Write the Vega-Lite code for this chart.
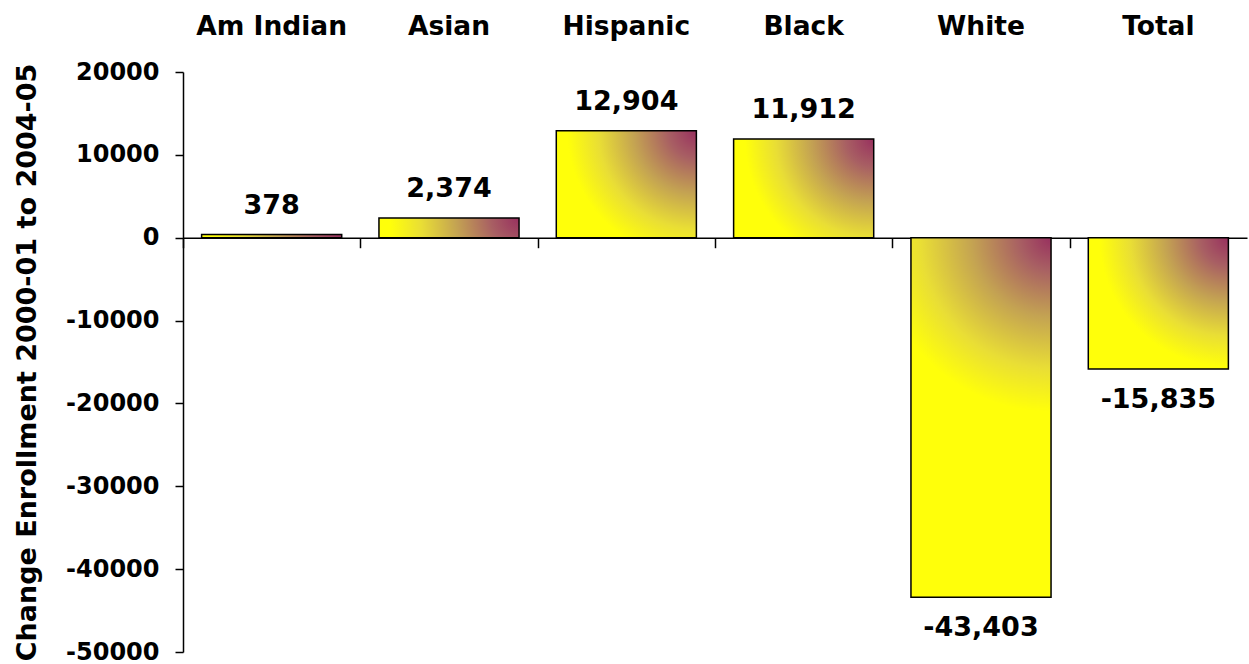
{
  "$schema": "https://vega.github.io/schema/vega-lite/v6.json",
  "description": "Change in enrollment 2000-01 to 2004-05 by group.",
  "width": 1064,
  "height": 580,
  "autosize": {"type": "none"},
  "padding": {"left": 183, "top": 72, "right": 2, "bottom": 12},
  "background": "white",
  "config": {
    "view": {"stroke": null},
    "font": "DejaVu Sans",
    "axis": {
      "labelFont": "DejaVu Sans",
      "labelFontWeight": "bold",
      "labelColor": "black",
      "titleFont": "DejaVu Sans",
      "titleFontWeight": "bold",
      "titleColor": "black",
      "domainColor": "black",
      "tickColor": "black",
      "grid": false
    }
  },
  "data": {
    "values": [
      {"group": "Am Indian", "change": 378},
      {"group": "Asian", "change": 2374},
      {"group": "Hispanic", "change": 12904},
      {"group": "Black", "change": 11912},
      {"group": "White", "change": -43403},
      {"group": "Total", "change": -15835}
    ]
  },
  "encoding": {
    "x": {
      "field": "group",
      "type": "nominal",
      "sort": null,
      "axis": null,
      "scale": {"paddingInner": 0.21, "paddingOuter": 0.105}
    },
    "y": {
      "field": "change",
      "type": "quantitative",
      "scale": {"domain": [-50000, 20000], "nice": false}
    }
  },
  "layer": [
    {
      "mark": {"type": "bar", "stroke": "black", "strokeWidth": 1.5},
      "encoding": {
        "x": {
          "field": "group",
          "type": "nominal",
          "sort": null,
          "title": null,
          "axis": {
            "orient": "top",
            "domain": false,
            "ticks": false,
            "tickSize": 0,
            "labelFontSize": 26.5,
            "labelPadding": 32,
            "labelAngle": 0
          }
        },
        "y": {
          "field": "change",
          "type": "quantitative",
          "title": "Change Enrollment 2000-01 to 2004-05",
          "axis": {
            "values": [20000, 10000, 0, -10000, -20000, -30000, -40000, -50000],
            "format": "d",
            "labelExpr": "replace(datum.label, '\u2212', '-')",
            "labelFontSize": 24,
            "labelPadding": 16,
            "tickSize": 8,
            "tickWidth": 1.5,
            "domainWidth": 1.5,
            "titleFontSize": 27,
            "titlePadding": 24
          }
        },
        "fill": {
          "condition": [
            {
              "test": "datum.group === 'White'",
              "value": {
                "gradient": "radial",
                "x1": 0.695, "y1": 0, "r1": 0,
                "x2": 0.695, "y2": 0, "r2": 0.55,
                "stops": [
                  {"offset": 0, "color": "#98305f"},
                  {"offset": 0.16, "color": "#a85f63"},
                  {"offset": 0.4, "color": "#c4a352"},
                  {"offset": 0.66, "color": "#e9de35"},
                  {"offset": 0.88, "color": "#ffff0a"}
                ]
              }
            },
            {
              "test": "datum.group === 'Total'",
              "value": {
                "gradient": "radial",
                "x1": 1, "y1": 0.032, "r1": 0,
                "x2": 1, "y2": 0.032, "r2": 1,
                "stops": [
                  {"offset": 0, "color": "#98305f"},
                  {"offset": 0.2, "color": "#a85f63"},
                  {"offset": 0.45, "color": "#c4a352"},
                  {"offset": 0.7, "color": "#e9de35"},
                  {"offset": 0.92, "color": "#ffff0a"}
                ]
              }
            },
            {
              "test": "datum.group === 'Hispanic'",
              "value": {
                "gradient": "radial",
                "x1": 1, "y1": 0.118, "r1": 0,
                "x2": 1, "y2": 0.118, "r2": 1,
                "stops": [
                  {"offset": 0, "color": "#98305f"},
                  {"offset": 0.2, "color": "#a85f63"},
                  {"offset": 0.45, "color": "#c4a352"},
                  {"offset": 0.7, "color": "#e9de35"},
                  {"offset": 0.92, "color": "#ffff0a"}
                ]
              }
            },
            {
              "test": "datum.group === 'Black'",
              "value": {
                "gradient": "radial",
                "x1": 1, "y1": 0.148, "r1": 0,
                "x2": 1, "y2": 0.148, "r2": 1,
                "stops": [
                  {"offset": 0, "color": "#98305f"},
                  {"offset": 0.2, "color": "#a85f63"},
                  {"offset": 0.45, "color": "#c4a352"},
                  {"offset": 0.7, "color": "#e9de35"},
                  {"offset": 0.92, "color": "#ffff0a"}
                ]
              }
            },
            {
              "test": "datum.group === 'Asian'",
              "value": {
                "gradient": "radial",
                "x1": 1, "y1": 0.43, "r1": 0,
                "x2": 1, "y2": 0.43, "r2": 1,
                "stops": [
                  {"offset": 0, "color": "#98305f"},
                  {"offset": 0.2, "color": "#a85f63"},
                  {"offset": 0.45, "color": "#c4a352"},
                  {"offset": 0.7, "color": "#e9de35"},
                  {"offset": 0.92, "color": "#ffff0a"}
                ]
              }
            }
          ],
          "value": {
            "gradient": "radial",
            "x1": 1, "y1": 0.49, "r1": 0,
            "x2": 1, "y2": 0.49, "r2": 1,
            "stops": [
              {"offset": 0, "color": "#98305f"},
              {"offset": 0.2, "color": "#a85f63"},
              {"offset": 0.45, "color": "#c4a352"},
              {"offset": 0.7, "color": "#e9de35"},
              {"offset": 0.92, "color": "#ffff0a"}
            ]
          }
        }
      }
    },
    {
      "transform": [{"filter": "datum.change >= 0"}],
      "mark": {
        "type": "text",
        "baseline": "alphabetic",
        "dy": -21,
        "fontSize": 27,
        "fontWeight": "bold",
        "color": "black"
      },
      "encoding": {
        "x": {
          "field": "group",
          "type": "nominal",
          "sort": null,
          "title": null,
          "axis": {
            "orient": "bottom",
            "offset": -414.29,
            "labels": false,
            "bandPosition": 0,
            "tickOffset": -18.6,
            "tickSize": 10,
            "tickWidth": 1.5,
            "domainWidth": 1.5
          }
        },
        "text": {"field": "change", "type": "quantitative", "format": ",d"}
      }
    },
    {
      "transform": [{"filter": "datum.change < 0"}],
      "mark": {
        "type": "text",
        "baseline": "top",
        "dy": 18,
        "fontSize": 27,
        "fontWeight": "bold",
        "color": "black",
        "text": {"expr": "replace(format(datum.change, ',d'), '\u2212', '-')"}
      },
      "encoding": {}
    }
  ],
  "resolve": {"axis": {"x": "independent"}}
}
